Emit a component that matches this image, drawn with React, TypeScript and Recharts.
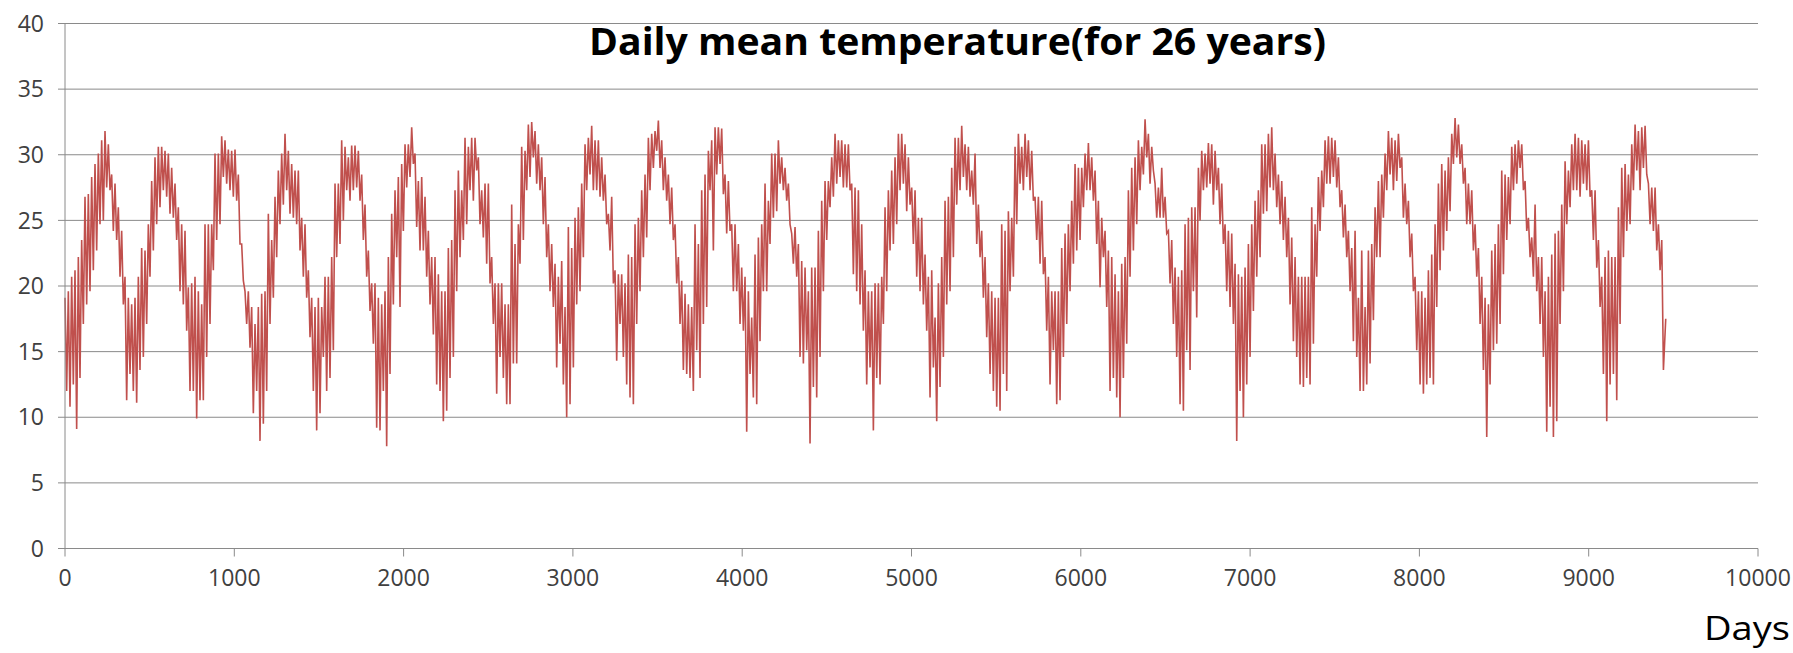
import { LineChart, Line, XAxis, YAxis, CartesianGrid } from "recharts";

// the band is read in windows of ~19.7 days: top of the band (HIGHS) and bottom (LOWS),
// one row per ~945 days
const WINDOW_DAYS = 19.69;
const HIGHS = [
  19.1, 19.6, 20.7, 21.2, 22.2, 23.5, 26.8, 27.0, 28.3, 29.3, 30.1, 31.1, 31.8, 30.8, 28.5, 27.8, 26.0, 24.2, 20.7, 19.1, 18.6, 19.1, 20.7, 22.9, 22.7, 24.7, 28.0, 29.8, 30.6, 30.6, 30.3, 30.1, 29.0, 27.8, 26.0, 24.7, 24.2, 19.9, 20.2, 20.7, 19.6, 18.6, 24.7, 24.7, 24.7, 30.1, 30.1, 31.4,
  31.1, 30.4, 30.3, 30.4, 28.5, 23.2, 19.6, 19.6, 18.4, 17.1, 18.4, 19.4, 19.6, 25.5, 23.5, 26.8, 28.8, 30.1, 31.6, 30.3, 29.3, 28.8, 28.8, 25.2, 24.7, 21.2, 19.1, 18.4, 19.1, 18.4, 20.7, 20.7, 22.2, 27.8, 27.8, 31.1, 30.6, 29.8, 30.7, 30.7, 30.3, 28.5, 26.2, 22.7, 20.2, 20.2, 19.1, 18.6,
  19.6, 22.2, 25.5, 27.3, 28.3, 29.3, 30.8, 30.8, 32.1, 30.1, 28.0, 28.3, 26.8, 24.2, 22.2, 22.2, 20.9, 19.6, 19.6, 22.9, 23.5, 27.3, 28.8, 27.3, 31.3, 30.6, 31.3, 31.3, 29.8, 27.3, 27.8, 27.8, 22.2, 20.2, 20.2, 20.2, 18.6, 18.6, 26.2, 23.2, 24.7, 30.6, 30.3, 32.3, 32.5, 31.8, 30.8, 29.8,
  28.3, 24.7, 23.2, 21.7, 20.7, 21.9, 18.4, 24.5, 22.9, 25.2, 26.0, 27.8, 30.8, 31.3, 32.2, 31.1, 31.1, 29.8, 28.5, 25.5, 26.8, 21.2, 20.9, 20.9, 20.2, 22.4, 22.2, 24.7, 25.2, 27.3, 28.5, 31.3, 31.6, 31.8, 32.6, 31.1, 29.8, 28.5, 27.5, 24.7, 22.2, 20.4, 19.4, 18.6, 18.4, 24.7, 23.2, 27.3,
  28.5, 30.3, 31.1, 32.1, 32.1, 32.0, 28.5, 28.0, 24.7, 24.7, 23.2, 21.4, 20.7, 19.6, 17.6, 22.4, 23.7, 24.7, 27.8, 26.5, 30.1, 30.1, 31.1, 29.8, 29.0, 27.8, 24.0, 24.5, 23.2, 21.9, 21.4, 19.6, 21.4, 21.4, 24.2, 26.5, 28.0, 28.0, 29.8, 31.6, 31.1, 31.1, 30.8, 30.8, 27.8, 27.5, 27.3, 24.7,
  21.2, 19.6, 19.6, 20.2, 20.2, 20.7, 26.0, 27.3, 28.8, 29.8, 31.6, 31.6, 30.8, 29.8, 27.5, 27.3, 25.2, 25.2, 22.4, 20.7, 21.2, 17.6, 20.2, 22.2, 26.5, 26.8, 29.0, 31.3, 31.3, 32.2, 30.8, 30.6, 28.8, 30.1, 26.2, 24.2, 22.2, 20.2, 19.6, 19.1, 19.1, 24.7, 24.2, 25.7, 25.2, 30.6, 31.6, 30.6,
  31.6, 31.1, 30.3, 26.8, 26.8, 26.5, 22.2, 20.7, 19.6, 19.6, 19.6, 22.9, 24.0, 24.7, 26.5, 29.3, 29.0, 29.0, 30.1, 30.9, 29.8, 28.8, 26.5, 25.2, 24.2, 22.7, 22.2, 20.9, 19.6, 21.7, 22.2, 27.3, 29.0, 29.8, 31.1, 30.6, 32.7, 31.6, 30.6, 27.8, 27.5, 29.0, 26.8, 24.2, 23.5, 21.4, 20.7, 21.2,
  24.7, 25.2, 26.0, 26.0, 29.0, 30.3, 30.1, 30.9, 30.8, 30.3, 29.0, 27.8, 24.7, 24.2, 24.0, 21.7, 20.9, 20.7, 21.4, 23.2, 24.7, 26.5, 27.3, 30.8, 30.8, 31.6, 32.1, 30.1, 28.5, 28.0, 26.8, 25.2, 23.7, 22.2, 20.7, 20.7, 20.7, 20.7, 26.0, 24.7, 28.3, 28.8, 31.1, 31.4, 31.3, 31.1, 29.8, 27.3,
  26.2, 24.2, 22.9, 24.2, 19.1, 22.7, 18.4, 22.7, 23.2, 26.0, 28.0, 28.5, 30.1, 31.8, 31.3, 31.1, 31.6, 29.8, 27.8, 26.5, 24.0, 20.7, 19.6, 19.6, 19.1, 21.2, 22.4, 24.7, 27.8, 29.3, 28.8, 29.8, 31.6, 32.8, 32.3, 30.8, 29.0, 27.8, 27.3, 24.7, 22.9, 20.7, 19.1, 18.6, 22.7, 23.2, 24.7, 28.8,
  28.5, 28.3, 30.6, 30.8, 31.1, 30.8, 28.0, 25.2, 23.7, 26.2, 22.2, 22.2, 19.6, 20.7, 22.4, 24.0, 24.2, 26.2, 29.5, 28.8, 30.8, 31.6, 31.3, 31.1, 30.8, 31.1, 27.3, 27.3, 23.5, 20.7, 22.2, 22.7, 22.2, 22.2, 26.0, 29.0, 29.3, 28.5, 30.8, 32.3, 31.8, 32.1, 32.2, 27.8, 27.5, 27.5, 24.7, 23.5,
];
const LOWS = [
  12.0, 10.8, 12.5, 9.1, 13.0, 17.1, 18.6, 19.6, 21.2, 22.7, 24.7, 25.0, 27.5, 27.3, 24.2, 23.5, 20.7, 18.6, 11.3, 13.3, 12.0, 11.1, 13.6, 14.6, 17.1, 20.7, 22.7, 24.7, 26.0, 27.3, 26.8, 25.5, 25.2, 23.5, 19.6, 18.6, 16.6, 12.0, 12.0, 9.9, 11.3, 11.3, 14.6, 17.1, 21.2, 23.5, 24.7, 28.3,
  27.8, 27.3, 26.8, 26.5, 23.2, 20.4, 17.1, 15.3, 10.3, 12.0, 8.2, 9.5, 12.0, 17.1, 19.1, 22.2, 24.7, 26.2, 27.3, 25.5, 25.2, 24.7, 22.7, 20.7, 19.1, 16.1, 12.0, 9.0, 10.3, 14.6, 12.0, 13.0, 15.1, 22.2, 23.2, 25.0, 27.3, 26.5, 27.3, 27.5, 26.5, 23.5, 20.7, 18.1, 15.6, 9.2, 9.0, 12.0,
  7.8, 13.3, 18.6, 22.2, 18.4, 24.2, 27.5, 28.3, 29.3, 24.5, 22.7, 22.7, 20.7, 18.6, 16.3, 12.5, 12.0, 9.7, 10.5, 13.0, 14.6, 19.6, 22.2, 23.5, 24.7, 27.3, 26.5, 28.8, 24.7, 23.7, 21.7, 20.2, 17.1, 11.8, 14.6, 13.0, 11.0, 11.0, 14.1, 14.1, 21.7, 23.5, 27.3, 28.3, 29.8, 27.8, 27.3, 24.7,
  22.2, 19.6, 18.4, 13.8, 15.6, 12.5, 10.0, 11.0, 13.8, 18.6, 19.6, 22.2, 27.3, 28.5, 27.3, 27.3, 26.8, 26.5, 24.7, 22.7, 20.2, 14.3, 17.1, 14.6, 12.5, 11.5, 11.0, 17.1, 19.6, 22.2, 23.7, 27.3, 29.0, 30.3, 29.0, 27.3, 26.5, 24.7, 23.5, 20.2, 17.1, 13.6, 13.3, 13.0, 12.0, 15.1, 13.0, 17.1,
  18.4, 27.3, 22.7, 28.5, 29.3, 27.0, 24.0, 24.2, 19.6, 19.6, 17.1, 16.6, 8.9, 13.3, 11.5, 11.0, 15.8, 19.6, 19.6, 23.2, 25.2, 25.7, 27.8, 27.3, 26.5, 24.7, 21.7, 20.7, 14.6, 14.1, 15.1, 8.0, 12.3, 11.5, 14.6, 19.6, 23.5, 26.0, 26.8, 27.8, 28.3, 27.5, 27.5, 27.3, 20.9, 19.6, 18.6, 16.6,
  12.5, 13.8, 9.0, 13.0, 12.5, 17.1, 19.6, 22.7, 23.2, 24.7, 27.3, 27.8, 25.7, 26.2, 23.2, 20.7, 19.6, 18.6, 16.6, 11.5, 13.8, 9.7, 12.3, 14.6, 18.6, 19.6, 22.2, 26.2, 27.3, 28.3, 27.3, 26.8, 26.2, 23.2, 22.2, 19.1, 16.1, 13.3, 12.0, 10.8, 10.5, 13.3, 12.0, 19.6, 20.7, 24.7, 27.8, 27.3,
  28.3, 27.3, 26.5, 23.5, 21.7, 20.9, 16.6, 12.5, 15.1, 11.0, 11.3, 14.6, 17.1, 19.6, 21.7, 22.7, 23.5, 26.0, 27.3, 27.3, 26.5, 23.2, 19.9, 22.2, 18.4, 12.0, 13.0, 11.5, 10.0, 13.0, 15.6, 20.7, 22.7, 24.7, 27.3, 28.5, 29.8, 27.8, 28.8, 25.2, 25.2, 25.2, 24.0, 20.2, 17.1, 14.6, 11.0, 10.5,
  15.1, 13.6, 19.6, 17.6, 25.0, 27.3, 27.5, 27.8, 26.2, 27.3, 24.7, 23.2, 19.6, 18.4, 17.1, 8.2, 12.0, 10.0, 12.5, 14.6, 18.1, 20.7, 22.2, 25.5, 25.7, 27.5, 27.3, 26.0, 24.7, 23.5, 22.2, 18.6, 15.8, 14.6, 12.5, 12.3, 13.0, 12.5, 15.6, 20.7, 24.2, 26.0, 27.8, 27.8, 28.3, 27.5, 26.0, 23.7,
  22.2, 19.6, 15.8, 14.6, 12.0, 12.0, 12.5, 14.1, 17.4, 22.2, 22.2, 25.2, 27.3, 28.5, 27.3, 28.0, 29.0, 25.2, 24.7, 22.2, 19.6, 15.1, 12.5, 11.8, 12.5, 13.0, 12.5, 18.4, 21.2, 22.7, 24.2, 25.7, 29.3, 29.8, 29.3, 27.8, 24.7, 24.7, 22.7, 20.7, 17.1, 13.6, 8.5, 12.5, 15.1, 15.6, 17.1, 20.9,
  23.5, 24.7, 27.3, 27.8, 29.0, 27.3, 24.2, 22.2, 20.7, 19.6, 17.1, 14.6, 8.9, 10.8, 8.5, 9.7, 17.1, 19.6, 24.7, 26.0, 27.3, 27.3, 26.8, 27.8, 27.3, 26.8, 23.5, 21.4, 18.4, 13.3, 9.7, 12.5, 13.3, 11.3, 17.1, 22.2, 24.2, 24.7, 27.3, 28.8, 27.3, 29.0, 28.5, 24.7, 24.2, 22.7, 21.2, 13.6,
];
const LAST_DAY = 9455;
const LAST_TEMP = 17.5;

const X_TICKS = [0, 1000, 2000, 3000, 4000, 5000, 6000, 7000, 8000, 9000, 10000];
const Y_TICKS = [0, 5, 10, 15, 20, 25, 30, 35, 40];

const data: { day: number; temp: number }[] = [];
HIGHS.forEach((hi, i) => {
  data.push({ day: i * WINDOW_DAYS, temp: hi });
  data.push({ day: i * WINDOW_DAYS + WINDOW_DAYS / 2, temp: LOWS[i] });
});
data.push({ day: LAST_DAY, temp: LAST_TEMP });

const font = "'Open Sans', 'Liberation Sans', sans-serif";

export default function App() {
  return (
    <div style={{ position: "absolute", left: 0, top: 0, width: 1793, height: 653, background: "#fff" }}>
      <LineChart width={1793} height={653} data={data} margin={{ top: 23.5, right: 35, bottom: 44.5, left: 0 }}>
        <CartesianGrid vertical={false} stroke="#8a8a8a" />
        <XAxis
          type="number"
          dataKey="day"
          domain={[0, 10000]}
          ticks={X_TICKS}
          interval={0}
          height={60}
          tickSize={8}
          tickMargin={13}
          stroke="#8a8a8a"
          tick={{ fill: "#404040", fontSize: 23, fontFamily: font }}
        />
        <YAxis
          type="number"
          domain={[0, 40]}
          ticks={Y_TICKS}
          interval={0}
          width={65}
          tickSize={7}
          tickMargin={14}
          stroke="#8a8a8a"
          tick={{ fill: "#404040", fontSize: 23, fontFamily: font }}
        />
        <Line type="linear" dataKey="temp" stroke="#c0504d" strokeWidth={1.6} dot={false} isAnimationActive={false} />
      </LineChart>
      <svg width={1793} height={653} style={{ position: "absolute", left: 0, top: 0, pointerEvents: "none" }}>
        <text x={589} y={55} fontFamily={font} fontWeight="bold" fontSize={37} fill="#000" textLength={737} lengthAdjust="spacingAndGlyphs">
          Daily mean temperature(for 26 years)
        </text>
        <text x={1704} y={640} fontFamily={font} fontSize={33} fill="#000" textLength={86} lengthAdjust="spacingAndGlyphs">
          Days
        </text>
      </svg>
    </div>
  );
}
